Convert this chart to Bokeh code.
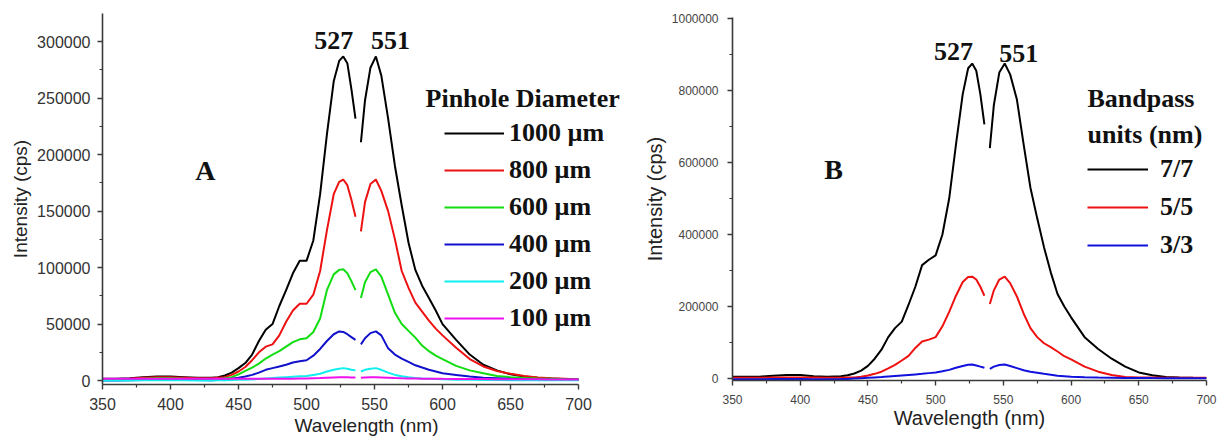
from bokeh.plotting import figure
from bokeh.layouts import row
from bokeh.models import Range1d, FixedTicker, BasicTickFormatter, Legend, LegendItem, Label
from bokeh.embed import file_html
from bokeh.resources import INLINE

nan = float("nan")

# wavelength grid (nm); 538 marks the gap in the recorded spectra
wavelength = [350, 360, 370, 380, 390, 400, 410, 420, 430, 435,
              440, 445, 450, 455, 460, 465, 470, 475, 480, 485, 490, 495, 500, 505, 510, 515, 520,
              524, 527, 530, 533, 536, 538,
              540, 543, 547, 551, 555,
              560, 565, 570, 575, 580, 585, 590, 595, 600,
              610, 620, 630, 640, 650, 660, 670, 680, 690, 700]

# Panel A: pinhole diameter series (cps)
pinhole_labels = ["1000 µm", "800 µm", "600 µm", "400 µm", "200 µm", "100 µm"]
pinhole_colors = ["#000000", "#ee1111", "#11dd11", "#1111cc", "#11eeee", "#ee11ee"]

a_1000 = [1500, 1500, 2000, 3000, 3500, 3500, 3000, 2500, 2500, 3000,
          4500, 7000, 11000, 15500, 23000, 35000, 45000, 50000, 66000, 80000, 95000, 106000, 106000, 124000, 165000, 218000, 265000,
          283000, 287000, 281000, 258000, 232000, nan,
          211000, 248000, 277000, 287000, 270000,
          232000, 190000, 155000, 122000, 98000, 84000, 73000, 62000, 50000,
          36000, 23000, 14000, 9000, 5500, 3500, 2500, 1800, 1200, 1000]
a_800 = [1000, 1000, 1500, 2500, 3000, 3000, 2500, 2000, 2000, 2500,
         3000, 5000, 8000, 12000, 18000, 25000, 30000, 32000, 40000, 52000, 62000, 68000, 68000, 76000, 97000, 133000, 165000,
         176000, 178000, 173000, 160000, 145000, nan,
         132000, 158000, 174000, 178000, 168000,
         150000, 125000, 97000, 82000, 69000, 61000, 53000, 46000, 40000,
         29000, 19000, 12500, 8500, 6000, 4000, 2800, 2000, 1500, 1000]
a_600 = [500, 500, 800, 1500, 2000, 2000, 1500, 1200, 1000, 1200,
         2000, 3000, 5500, 8500, 11500, 15000, 19500, 23000, 26000, 30000, 34000, 36500, 37500, 43000, 55000, 80000, 94000,
         98000, 98500, 95000, 88000, 80000, nan,
         73000, 87000, 96000, 98500, 92000,
         76000, 60000, 50000, 44000, 38000, 31000, 26000, 22000, 19000,
         13000, 9000, 6500, 4000, 3000, 2200, 1800, 1500, 1200, 1000]
a_400 = [0, 0, 300, 500, 800, 800, 600, 400, 300, 500,
         1000, 1500, 2400, 3500, 5000, 7000, 9500, 11000, 12500, 14000, 16000, 17000, 18000, 22000, 28000, 35000, 41000,
         43500, 43000, 41000, 38500, 36000, nan,
         32000, 37500, 42000, 43500, 40000,
         28500, 23000, 19500, 16500, 13500, 11500, 9500, 8000, 6500,
         5000, 3500, 2500, 2000, 1500, 1200, 1000, 800, 700, 600]
a_200 = [0, 0, 0, 200, 300, 300, 200, 100, 100, 200,
         300, 400, 600, 800, 1000, 1400, 1800, 2200, 2600, 3000, 3400, 3700, 4000, 5000, 6000, 8000, 9500,
         10500, 11000, 10500, 9500, 9000, nan,
         8000, 9500, 10500, 11000, 9500,
         7000, 5000, 3800, 2900, 2300, 1900, 1600, 1300, 1100,
         800, 600, 500, 400, 300, 300, 200, 200, 200, 200]
a_100 = [1500, 1500, 1500, 1500, 1500, 1500, 1500, 1500, 1500, 1500,
         1500, 1500, 1500, 1500, 1500, 1500, 1600, 1600, 1600, 1700, 1700, 1800, 1800, 2000, 2200, 2500, 2800,
         3000, 3000, 2900, 2700, 2600, nan,
         2400, 2700, 2900, 3000, 2800,
         2500, 2200, 2000, 1900, 1800, 1700, 1600, 1600, 1500,
         1400, 1300, 1300, 1200, 1200, 1100, 1100, 1000, 1000, 1000]
pinhole_series = [a_1000, a_800, a_600, a_400, a_200, a_100]

# Panel B: bandpass series (cps)
bandpass_labels = ["7/7", "5/5", "3/3"]
bandpass_colors = ["#000000", "#ee1111", "#1111dd"]

b_7 = [5000, 5000, 5000, 8000, 10000, 10000, 6000, 5000, 6000, 9000,
       14000, 22000, 35000, 55000, 80000, 115000, 140000, 158000, 205000, 255000, 315000, 330000, 342000, 400000, 500000, 650000, 790000,
       862000, 875000, 855000, 790000, 706000, nan,
       640000, 760000, 850000, 875000, 845000,
       775000, 650000, 530000, 445000, 365000, 295000, 235000, 200000, 170000,
       115000, 82000, 55000, 33000, 17000, 9000, 4500, 3000, 2000, 1500]
b_5 = [2000, 2000, 2000, 2500, 3000, 3000, 2500, 2000, 2000, 2500,
       3000, 5000, 8500, 13000, 19000, 28000, 38000, 50000, 63000, 85000, 103000, 108000, 115000, 145000, 185000, 230000, 268000,
       282000, 283000, 275000, 255000, 230000, nan,
       207000, 245000, 275000, 283000, 265000,
       228000, 180000, 140000, 115000, 98000, 87000, 75000, 62000, 53000,
       33000, 19000, 10000, 4500, 3000, 2500, 2000, 2000, 2000, 2000]
b_3 = [-2000, -2000, -2000, -1500, -1500, -1500, -2000, -2000, -1500, -1000,
       0, 1000, 2000, 3000, 4000, 5500, 7000, 8500, 10000, 11500, 13000, 15000, 17000, 20000, 24000, 30000, 35000,
       38000, 38800, 36000, 33000, 29700, nan,
       27000, 33000, 37500, 38800, 35000,
       29000, 23000, 19000, 16000, 13000, 10500, 8000, 6500, 5000,
       3500, 2500, 2000, 1500, 1500, 1200, 1000, 1000, 1000, 1000]
bandpass_series = [b_7, b_5, b_3]

x_ticks = [350, 400, 450, 500, 550, 600, 650, 700]
x_minor = [375, 425, 475, 525, 575, 625, 675]
a_y_ticks = [0, 50000, 100000, 150000, 200000, 250000, 300000]
a_y_minor = [25000, 75000, 125000, 175000, 225000, 275000]
b_y_ticks = [0, 200000, 400000, 600000, 800000, 1000000]
b_y_minor = [100000, 300000, 500000, 700000, 900000]

SANS = "Liberation Sans"
SERIF = "Liberation Serif"


def style(p, tick_size, label_size, x_std, y_std, x_lstd, y_lstd, tick_color):
    p.xgrid.visible = False
    p.ygrid.visible = False
    p.outline_line_color = None
    p.background_fill_color = "white"
    p.border_fill_color = "white"
    for ax in (p.xaxis[0], p.yaxis[0]):
        ax.axis_line_color = "#3a3a3a"
        ax.axis_line_width = 1.6
        ax.major_tick_line_color = "#3a3a3a"
        ax.minor_tick_line_color = "#3a3a3a"
        ax.major_tick_line_width = 1.4
        ax.minor_tick_line_width = 1.2
        ax.major_tick_out = 5
        ax.major_tick_in = 0
        ax.minor_tick_out = 3
        ax.minor_tick_in = 0
        ax.major_label_text_font = SANS
        ax.major_label_text_font_size = f"{tick_size}px"
        ax.major_label_text_color = tick_color
        ax.axis_label_text_font = SANS
        ax.axis_label_text_font_style = "normal"
        ax.axis_label_text_font_size = f"{label_size}px"
        ax.axis_label_text_color = "#222222"
    p.xaxis[0].major_label_standoff = x_std
    p.yaxis[0].major_label_standoff = y_std
    p.xaxis[0].axis_label_standoff = x_lstd
    p.yaxis[0].axis_label_standoff = y_lstd
    p.yaxis[0].formatter = BasicTickFormatter(use_scientific=False)


# ---------- Panel A ----------
# frame spans 102..630 px; x axis drawn only over 350..700 nm, extra room on the right holds the legend
pA = figure(width=630, height=438, output_backend="svg", toolbar_location=None,
            x_range=Range1d(350, 738.2), y_range=Range1d(-3500, 325000),
            min_border_left=102, min_border_right=0, min_border_top=13, min_border_bottom=53,
            x_axis_label="Wavelength (nm)", y_axis_label="Intensity (cps)")
pA.frame_align = False
style(pA, 16, 19, 8, 7, 2, 3, "#333333")
pA.xaxis[0].ticker = FixedTicker(ticks=x_ticks, minor_ticks=x_minor)
pA.xaxis[0].bounds = (350, 700)
pA.yaxis[0].ticker = FixedTicker(ticks=a_y_ticks, minor_ticks=a_y_minor)

items_a = []
for lab, col, ys in zip(pinhole_labels, pinhole_colors, pinhole_series):
    r = pA.line(x=wavelength, y=ys, line_color=col, line_width=2)
    items_a.append(LegendItem(label=lab, renderers=[r]))

legA = Legend(items=items_a, location=(342, 51), orientation="vertical",
              background_fill_alpha=0, border_line_alpha=0, padding=0, margin=0,
              glyph_width=60, glyph_height=30, label_height=30, spacing=7, label_standoff=5,
              label_text_font=SERIF, label_text_font_style="bold", label_text_font_size="26px",
              label_text_color="#111111")
pA.add_layout(legA)

pA.add_layout(Label(x=587.5, y=249700, text="Pinhole Diameter", text_font=SERIF,
                    text_font_style="bold", text_font_size="26px", text_align="left",
                    text_baseline="middle", text_color="#111111"))
pA.add_layout(Label(x=425.7, y=186000, text="A", text_font=SERIF, text_font_style="bold",
                    text_font_size="28px", text_align="center", text_baseline="middle", text_color="#111111"))
pA.add_layout(Label(x=520, y=300800, text="527", text_font=SERIF, text_font_style="bold",
                    text_font_size="26px", text_align="center", text_baseline="middle", text_color="#111111"))
pA.add_layout(Label(x=561.8, y=300800, text="551", text_font=SERIF, text_font_style="bold",
                    text_font_size="26px", text_align="center", text_baseline="middle", text_color="#111111"))

# ---------- Panel B ----------
pB = figure(width=587, height=438, output_backend="svg", toolbar_location=None,
            x_range=Range1d(350, 700), y_range=Range1d(-5500, 1003000),
            min_border_left=102, min_border_right=11, min_border_top=17, min_border_bottom=58,
            x_axis_label="Wavelength (nm)", y_axis_label="Intensity (cps)")
pB.frame_align = False
style(pB, 12, 20, 9, 9, 0, 3, "#444444")
pB.xaxis[0].ticker = FixedTicker(ticks=x_ticks, minor_ticks=x_minor)
pB.yaxis[0].ticker = FixedTicker(ticks=b_y_ticks, minor_ticks=b_y_minor)

items_b = []
for lab, col, ys in zip(bandpass_labels, bandpass_colors, bandpass_series):
    r = pB.line(x=wavelength, y=ys, line_color=col, line_width=2)
    items_b.append(LegendItem(label=lab, renderers=[r]))

legB = Legend(items=items_b, location=(355, 120), orientation="vertical",
              background_fill_alpha=0, border_line_alpha=0, padding=0, margin=0,
              glyph_width=61, glyph_height=30, label_height=30, spacing=8, label_standoff=12,
              label_text_font=SERIF, label_text_font_style="bold", label_text_font_size="26px",
              label_text_color="#111111")
pB.add_layout(legB)

pB.add_layout(Label(x=612.1, y=779000, text="Bandpass", text_font=SERIF, text_font_style="bold",
                    text_font_size="26px", text_align="left", text_baseline="middle", text_color="#111111"))
pB.add_layout(Label(x=612.1, y=679200, text="units (nm)", text_font=SERIF, text_font_style="bold",
                    text_font_size="26px", text_align="left", text_baseline="middle", text_color="#111111"))
pB.add_layout(Label(x=424.6, y=582000, text="B", text_font=SERIF, text_font_style="bold",
                    text_font_size="28px", text_align="center", text_baseline="middle", text_color="#111111"))
pB.add_layout(Label(x=513.2, y=909000, text="527", text_font=SERIF, text_font_style="bold",
                    text_font_size="26px", text_align="center", text_baseline="middle", text_color="#111111"))
pB.add_layout(Label(x=561.4, y=903700, text="551", text_font=SERIF, text_font_style="bold",
                    text_font_size="26px", text_align="center", text_baseline="middle", text_color="#111111"))

layout = row(pA, pB)
open("out.html", "w").write(file_html(layout, INLINE))
